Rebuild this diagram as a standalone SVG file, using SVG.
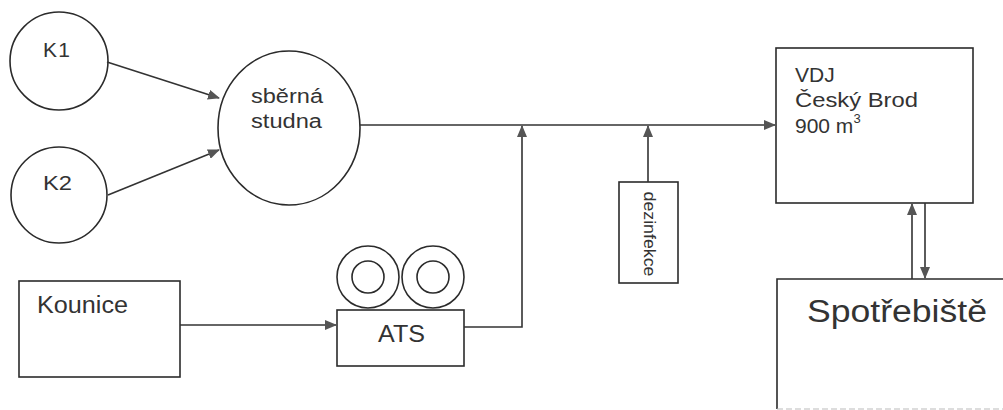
<svg xmlns="http://www.w3.org/2000/svg" width="1003" height="410" viewBox="0 0 1003 410">
<style>
.s{fill:none;stroke:#2b2b2b;stroke-width:1.6}
.c{fill:none;stroke:#333;stroke-width:1.6}
.t{font-family:"Liberation Sans",Arial,sans-serif;fill:#333}
</style>
<defs>
<marker id="a" markerWidth="12" markerHeight="10" refX="11" refY="5" orient="auto" markerUnits="userSpaceOnUse">
<path d="M0,0 L12,5 L0,10 Z" fill="#555"/>
</marker>
</defs>
<rect width="1003" height="410" fill="#fff"/>
<g id="K1"><circle class="s" cx="59" cy="61" r="49"/><text class="t" x="43" y="57" font-size="21" textLength="27" lengthAdjust="spacing">K1</text></g>
<g id="K2"><circle class="s" cx="59" cy="195" r="48"/><text class="t" x="43" y="190" font-size="21" textLength="29" lengthAdjust="spacingAndGlyphs">K2</text></g>
<g id="studna"><ellipse class="s" cx="289" cy="128" rx="71" ry="77"/><text class="t" font-size="20"><tspan x="251" y="103" textLength="72" lengthAdjust="spacingAndGlyphs">sběrná</tspan><tspan x="251" y="128" textLength="71" lengthAdjust="spacingAndGlyphs">studna</tspan></text></g>
<g id="kounice"><rect class="s" x="19" y="281" width="161" height="96"/><text class="t" x="37" y="313" font-size="23" textLength="91" lengthAdjust="spacingAndGlyphs">Kounice</text></g>
<g id="ATS">
<circle class="s" cx="368" cy="277" r="31"/><circle class="s" cx="368" cy="277" r="16"/>
<circle class="s" cx="433" cy="277" r="31"/><circle class="s" cx="433" cy="277" r="16"/>
<rect class="s" x="337" y="310" width="127" height="56" fill="#fff"/>
<text class="t" x="378" y="342" font-size="23" textLength="47" lengthAdjust="spacingAndGlyphs">ATS</text>
</g>
<g id="dezinfekce"><rect class="s" x="619" y="182" width="59" height="101"/><text class="t" x="0" y="0" font-size="16" text-anchor="middle" dominant-baseline="central" textLength="85" lengthAdjust="spacingAndGlyphs" transform="translate(649,234) rotate(90)">dezinfekce</text></g>
<g id="VDJ"><rect class="s" x="776" y="48" width="197" height="155"/><text class="t" font-size="21"><tspan x="795" y="82">VDJ</tspan><tspan x="795" y="107" textLength="123" lengthAdjust="spacingAndGlyphs">Český Brod</tspan><tspan x="795" y="133">900 m</tspan><tspan font-size="13" dy="-10">3</tspan></text></g>
<g id="spotrebiste"><path class="s" d="M1010,279 H777 V409"/><line x1="777" y1="409" x2="1003" y2="409" stroke="#bbb" stroke-width="1.2" stroke-dasharray="6 3"/><text class="t" x="807" y="322" font-size="31" textLength="180" lengthAdjust="spacingAndGlyphs">Spotřebiště</text></g>
<g id="connectors">
<line class="c" x1="107" y1="62" x2="219" y2="98" marker-end="url(#a)"/>
<line class="c" x1="108" y1="195" x2="219" y2="150" marker-end="url(#a)"/>
<line class="c" x1="360" y1="125" x2="775" y2="125" marker-end="url(#a)"/>
<line class="c" x1="180" y1="325" x2="336" y2="325" marker-end="url(#a)"/>
<polyline class="c" points="464,327 522,327 522,126" marker-end="url(#a)"/>
<line class="c" x1="648" y1="182" x2="648" y2="126" marker-end="url(#a)"/>
<line class="c" x1="912" y1="279" x2="912" y2="204" marker-end="url(#a)"/>
<line class="c" x1="925" y1="203" x2="925" y2="278" marker-end="url(#a)"/>
</g>
</svg>
